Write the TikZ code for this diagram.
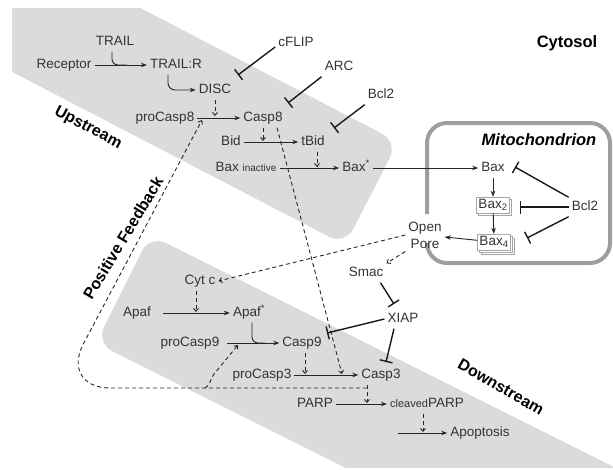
\documentclass[tikz,border=0pt]{standalone}
\usepackage{fontspec}
\setmainfont{Liberation Sans}
\usetikzlibrary{arrows.meta,shadows}

\begin{document}
\begin{tikzpicture}[
  x=1pt, y=-1pt,
  lbl/.style={font=\fontsize{13.5}{17}\selectfont, text=black!80, inner sep=3pt},
  mol/.style={lbl, text height=10pt, text depth=3pt},
  boxmol/.style={mol, draw=black!35, fill=white, inner sep=2pt,
    text height=9.5pt, text depth=2.5pt},
  head/.style={font=\fontsize{16.5}{18}\selectfont\bfseries, text=black},
  zone/.style={font=\fontsize{16}{18}\selectfont\bfseries, text=black},
  band/.style={fill=black!14},
  act/.style={draw=black!85, line width=0.9pt, -{Stealth[length=6pt,width=4.5pt]}},
  link/.style={draw=black!85, line width=0.9pt},
  mod/.style={draw=black!85, line width=0.9pt, dash pattern=on 4pt off 3pt,
    -{Straight Barb[length=3pt,width=5pt]}},
  inh/.style={draw=black!90, line width=1.4pt, -{Bar[width=13pt]}}
]
\useasboundingbox (0,0) rectangle (613,469);

% grey bands
\begin{scope}
  \clip (12,8) rectangle (613,469);
  \fill[band, rounded corners=18pt] (-102,-118) -- (398,142) -- (345,245) -- (-155,-15) -- cycle;
\end{scope}
\begin{scope}
  \clip (0,0) rectangle (613,467);
  \fill[band, rounded corners=18pt] (150,235) -- (96,343) -- (696,643) -- (750,535) -- cycle;
\end{scope}

% mitochondrion wall, open at the pore
\draw[black!38, line width=4pt, rounded corners=20pt]
  (427,214) -- (427,123) -- (610,123) -- (610,263) -- (427,263) -- (427,243);

% headings
\node[head] (cyto) at (567,43) {Cytosol};
\node[head, font=\fontsize{16.5}{18}\selectfont\bfseries\itshape] (mito) at (539,140) {Mitochondrion};
\node[zone, rotate=-28] (upst) at (88,128) {Upstream};
\node[zone, rotate=-30] (downst) at (501,387) {Downstream};
\node[zone, rotate=59] (posfb) at (123,238) {Positive Feedback};

% upstream species
\node[mol] (trail) at (115,42) {TRAIL};
\node[mol] (rec) at (64,65) {Receptor};
\node[mol] (trailr) at (176,65) {TRAIL:R};
\node[mol] (disc) at (215,90) {DISC};
\node[mol] (cflip) at (296,43) {cFLIP};
\node[mol] (arc) at (339,67) {ARC};
\node[mol] (bclup) at (381,95) {Bcl2};
\node[mol] (procasp8) at (165,118) {proCasp8};
\node[mol] (casp8) at (263,118) {Casp8};
\node[mol] (bid) at (231,142) {Bid};
\node[mol] (tbid) at (313,142) {tBid};
\node[mol] (baxin) at (246,168) {Bax {\fontsize{10}{12}\selectfont inactive}};
\node[mol] (baxact) at (356,168) {Bax\textsuperscript{*}};

% mitochondrial species
\node[mol] (bax) at (493,168) {Bax};
\node[boxmol, copy shadow={shadow xshift=2pt, shadow yshift=-2pt, draw=black!35, fill=white}]
  (bax2) at (493,205) {Bax\textsubscript{2}};
\node[boxmol, double copy shadow={shadow xshift=2pt, shadow yshift=-2pt, draw=black!35, fill=white}]
  (bax4) at (494,242) {Bax\textsubscript{4}};
\node[mol] (bclmit) at (585,207) {Bcl2};
\node[lbl, align=center] (pore) at (425,235) {Open\\Pore};

% downstream species
\node[mol] (smac) at (366,273) {Smac};
\node[mol] (xiap) at (403,319) {XIAP};
\node[mol] (cytc) at (200,281) {Cyt c};
\node[mol] (apaf) at (137,313) {Apaf};
\node[mol] (apafact) at (249,313) {Apaf\textsuperscript{*}};
\node[mol] (procasp9) at (190,343) {proCasp9};
\node[mol] (casp9) at (302,343) {Casp9};
\node[mol] (procasp3) at (262,375) {proCasp3};
\node[mol] (casp3) at (381,375) {Casp3};
\node[mol] (parp) at (315,404) {PARP};
\node[mol] (cparp) at (427,404) {{\fontsize{11}{12}\selectfont cleaved}PARP};
\node[mol] (apop) at (480,433) {Apoptosis};

% points on reactions
\coordinate (jtrail) at (127,65);
\coordinate (jdisc) at (215,116);
\coordinate (jfb) at (202,120);
\coordinate (jbid) at (263,141);
\coordinate (jbaxin) at (317,167);
\coordinate (jcasp3) at (342,374);
\coordinate (japaf) at (196,312);
\coordinate (jp9) at (265,343);
\coordinate (jfb9) at (238,345);
\coordinate (jp3) at (305,374);
\coordinate (jparp) at (367,403);
\coordinate (japop) at (423,432);
\coordinate (apstart) at (398,433);
\coordinate (fbr) at (367,388);
\coordinate (fbk) at (60,388);
\coordinate (fbb) at (205,388);
% inhibition ends
\coordinate (tflip) at (238,75);
\coordinate (tarc) at (288,103);
\coordinate (tbcl) at (334,128);
\coordinate (tbax) at (515,167);
\coordinate (tbax2) at (520,207);
\coordinate (tbax4) at (527,238);
\coordinate (txiap) at (394,304);
\coordinate (tcasp9) at (327,333);
\coordinate (tcasp3) at (386,362);

% upstream reactions
\draw[act] (rec) -- (trailr);
\draw[link, rounded corners=6pt] ([xshift=-3pt]trail.south) |- (jtrail);
\draw[act, rounded corners=7pt] ([xshift=-8pt]trailr.south) |- (disc.west);
\draw[inh] ([yshift=-4pt]cflip.west) -- (tflip);
\draw[mod] (disc.south) -- (jdisc);
\draw[act] (procasp8) -- (casp8);
\draw[inh] (arc.south west) -- (tarc);
\draw[inh] (bclup.south west) -- (tbcl);
\draw[mod] (casp8.south) -- (jbid);
\draw[act] (bid) -- (tbid);
\draw[mod] ([xshift=4pt]tbid.south) -- (jbaxin);
\draw[act] (baxin) -- (baxact);
\draw[act] (baxact) -- (bax);

% mitochondrion
\draw[act] (bax) -- (bax2);
\draw[act] (bax2) -- (bax4);
\draw[act] (bax4) -- (pore);
\draw[inh] (bclmit.north west) -- (tbax);
\draw[inh] (bclmit.west) -- (tbax2);
\draw[inh] (bclmit.south west) -- (tbax4);

% downstream reactions
\draw[mod] (pore.west) -- (cytc.east);
\draw[mod] (pore.south west) -- (smac.north east);
\draw[inh] ([xshift=-6pt]smac.south east) -- (txiap);
\draw[inh] (xiap.west) -- (tcasp9);
\draw[inh] ([xshift=-9pt]xiap.south) -- (tcasp3);
\draw[mod] ([xshift=14pt]casp8.south) -- (jcasp3);
\draw[mod] ([xshift=-4pt]cytc.south) -- (japaf);
\draw[act, shorten <=9pt] (apaf) -- (apafact);
\draw[link, rounded corners=6pt] ([xshift=3pt]apafact.south) |- (jp9);
\draw[act, shorten <=5pt] (procasp9) -- (casp9);
\draw[mod] ([xshift=3pt]casp9.south) -- (jp3);
\draw[act] (procasp3) -- (casp3);
\draw[mod] ([xshift=-14pt]casp3.south) -- (jparp);
\draw[act] (parp) -- (cparp);
\draw[mod] ([xshift=-4pt]cparp.south) -- (japop);
\draw[act] (apstart) -- (apop);

% positive feedback
\draw[mod, rounded corners=50pt] (fbr) -- (fbk) -- (jfb);
\draw[mod] (fbb) .. controls (211,385) and (210,379) .. (214,374) -- (jfb9);

\end{tikzpicture}
\end{document}
